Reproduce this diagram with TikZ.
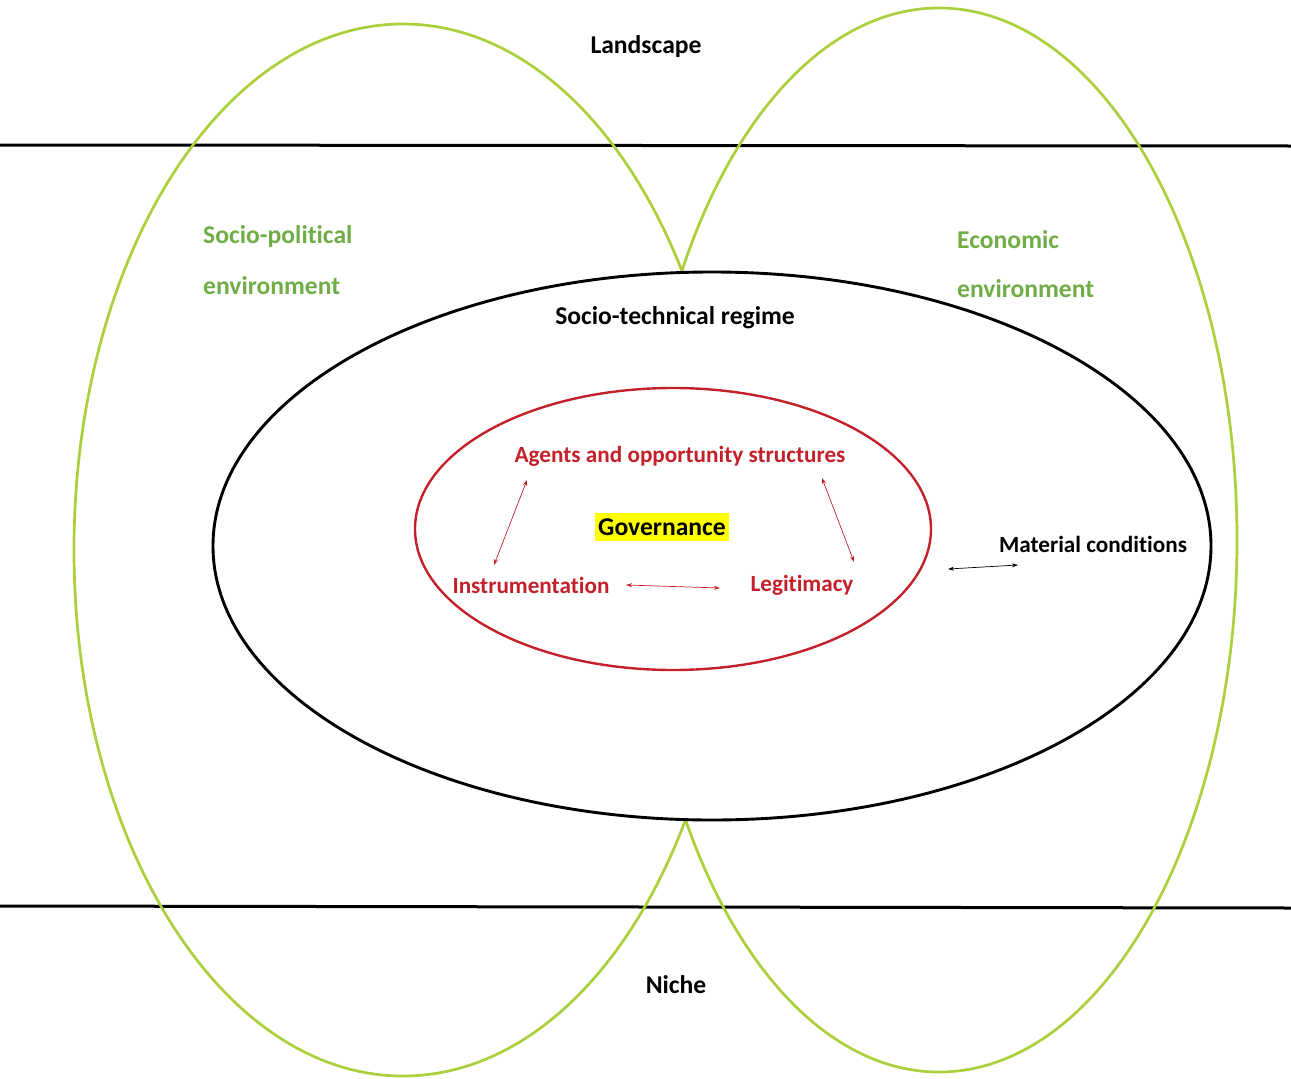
\documentclass[tikz,border=0pt]{standalone}
\usepackage{fontspec}
\setmainfont{Carlito}[Ligatures=NoCommon]
\usetikzlibrary{arrows.meta}
\definecolor{limeline}{RGB}{170,208,60}
\definecolor{envgreen}{RGB}{112,173,71}
\definecolor{govred}{RGB}{196,32,42}
\definecolor{hilite}{RGB}{255,255,0}
\tikzset{
  label/.style={font=\bfseries\fontsize{25.6}{30}\selectfont, inner sep=0pt, text=black},
  smalllabel/.style={label, font=\bfseries\fontsize{23.2}{28}\selectfont},
  envlabel/.style={label, text=envgreen, anchor=west},
  govlabel/.style={smalllabel, text=govred},
  envring/.style={draw=limeline, line width=2.7pt},
  boundary/.style={draw=black, line width=3pt},
  link/.style={draw=govred, line width=0.7pt, {Stealth[length=6pt,width=4pt]}-{Stealth[length=6pt,width=4pt]}},
  blacklink/.style={link, draw=black}
}
\begin{document}
\begin{tikzpicture}[x=1pt,y=-1pt]
\useasboundingbox (0,0) rectangle (1291,1079);
\fill[white] (0,0) rectangle (1291,1079);

% landscape / niche boundaries
\coordinate (topL) at (0,145);
\coordinate (topR) at (1291,146);
\coordinate (botL) at (0,906);
\coordinate (botR) at (1291,908);
\draw[boundary] (topL) -- (topR);
\draw[boundary] (botL) -- (botR);

% socio-political and economic environments
\draw[envring] (403,550) ellipse [x radius=329pt, y radius=526pt];
\draw[envring] (939,540) ellipse [x radius=298pt, y radius=532pt];

% socio-technical regime
\draw[boundary, fill=white, line width=2.9pt] (712,546) ellipse [x radius=499pt, y radius=274pt];

% governance core
\draw[draw=govred, line width=2.4pt] (673,529) ellipse [x radius=258pt, y radius=141pt];

% labels
\node[label] (landscape) at (646,47) {Landscape};
\node[label] (niche) at (676,985) {Niche};
\node[envlabel] (sp1) at (203,237) {Socio-political};
\node[envlabel] (sp2) at (203,286) {environment};
\node[envlabel] (ec1) at (957,240) {Economic};
\node[envlabel] (ec2) at (957,289) {environment};
\node[label] (regime) at (675,318) {Socio-technical regime};
\node[govlabel] (agents) at (680,456) {Agents and opportunity structures};
\node[label, fill=hilite, inner xsep=3pt, inner ysep=6pt] (gov) at (662,527) {Governance};
\node[govlabel] (instr) at (531,585) {Instrumentation};
\node[govlabel] (legit) at (802,585) {Legitimacy};
\node[smalllabel] (material) at (1093,544) {Material conditions};

% relations
\coordinate (a1) at (527,480);
\coordinate (i1) at (494,565);
\coordinate (a2) at (822,478);
\coordinate (l2) at (854,562);
\coordinate (i3) at (626,585);
\coordinate (l3) at (720,588);
\coordinate (m1) at (948,569);
\coordinate (m2) at (1018,565);
\draw[link] (a1) -- (i1);
\draw[link] (a2) -- (l2);
\draw[link] (i3) -- (l3);
\draw[blacklink] (m1) -- (m2);
\end{tikzpicture}
\end{document}
